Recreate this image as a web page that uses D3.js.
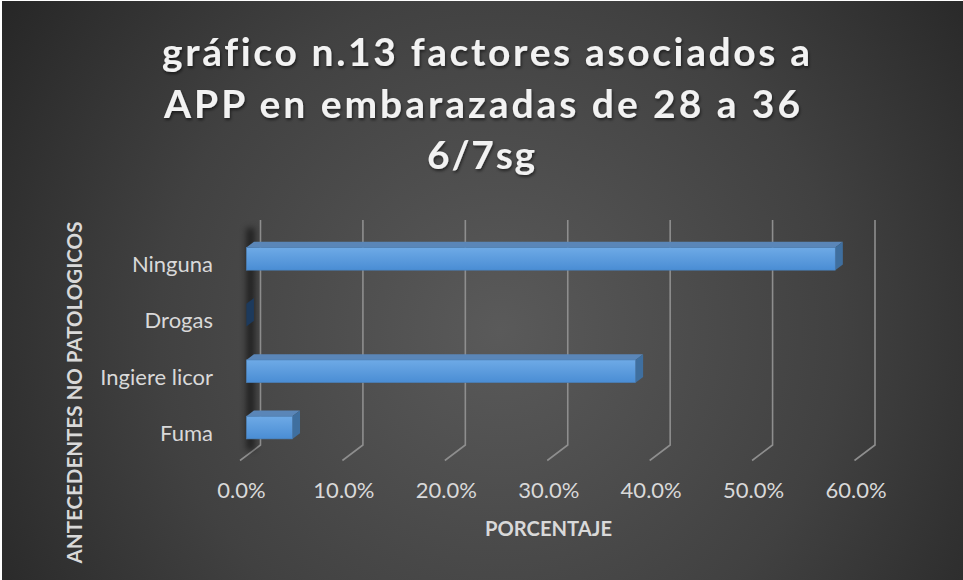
<!DOCTYPE html>
<html>
<head>
<meta charset="utf-8">
<script src="https://cdn.jsdelivr.net/npm/d3@7"></script>
<style>
  html, body { margin: 0; padding: 0; background: #ffffff; }
  svg { display: block; }
  text { font-variant-ligatures: none; font-feature-settings: "liga" 0; }
</style>
</head>
<body>
<svg id="chart" width="963" height="580"></svg>
<script>
// ---- data ----
const categories = ["Ninguna", "Drogas", "Ingiere licor", "Fuma"];
const values = [0.575, 0.0, 0.38, 0.045];
const tickValues = [0, 0.1, 0.2, 0.3, 0.4, 0.5, 0.6];
const titleLines = ["gráfico n.13 factores asociados a", "APP en embarazadas de 28 a 36", "6/7sg"];
const xAxisTitle = "PORCENTAJE";
const yAxisTitle = "ANTECEDENTES NO PATOLOGICOS";

// ---- layout ----
const W = 963, H = 580;
const svg = d3.select("#chart");
const defs = svg.append("defs");

const bg = defs.append("radialGradient").attr("id", "bg")
  .attr("gradientUnits", "userSpaceOnUse")
  .attr("cx", 500).attr("cy", 330).attr("r", 620);
bg.append("stop").attr("offset", "0").attr("stop-color", "#5a5a5a");
bg.append("stop").attr("offset", "0.55").attr("stop-color", "#414141");
bg.append("stop").attr("offset", "1").attr("stop-color", "#242424");

const front = defs.append("linearGradient").attr("id", "barFront")
  .attr("x1", 0).attr("y1", 0).attr("x2", 0).attr("y2", 1);
front.append("stop").attr("offset", "0").attr("stop-color", "#6eaae6");
front.append("stop").attr("offset", "1").attr("stop-color", "#4a8dd4");

const blur = defs.append("filter").attr("id", "blur")
  .attr("x", "-200%").attr("y", "-20%").attr("width", "500%").attr("height", "140%");
blur.append("feGaussianBlur").attr("stdDeviation", 3);

const tshadow = defs.append("filter").attr("id", "tshadow")
  .attr("x", "-10%").attr("y", "-30%").attr("width", "120%").attr("height", "160%");
tshadow.append("feDropShadow").attr("dx", 1).attr("dy", 2).attr("stdDeviation", 1.5)
  .attr("flood-color", "#000").attr("flood-opacity", 0.55);

svg.append("rect").attr("width", W).attr("height", H).attr("fill", "#ffffff");
svg.append("rect").attr("x", 2).attr("y", 1).attr("width", W - 2).attr("height", H - 1)
  .attr("fill", "url(#bg)");

// back-plane scales and depth vector (back -> front)
const x = d3.scaleLinear().domain([0, 0.6]).range([260.5, 875]);
const y = d3.scaleBand().domain(categories).range([220, 445]).padding(0);
const D = { dx: -20.5, dy: 15.5 };
const fFront = 0.69, fBack = 0.32;   // bar faces position along depth
const thick = y.bandwidth() * 0.404;

// gridlines (back wall verticals + floor diagonals)
const grid = svg.append("g");
tickValues.forEach(t => {
  const gx = x(t);
  grid.append("path")
    .attr("d", `M${gx},${y.range()[0]}L${gx},${y.range()[1]}L${gx + D.dx},${y.range()[1] + D.dy}`)
    .attr("fill", "none").attr("stroke", "#8e8e8e").attr("stroke-width", 1.6);
});

// dark shadow along the category axis
svg.append("rect")
  .attr("x", x(0) - 14).attr("y", 228).attr("width", 8).attr("height", 222)
  .attr("fill", "#000").attr("opacity", 0.55).attr("filter", "url(#blur)");

// bars
const bars = svg.append("g");
categories.forEach((c, i) => {
  const v = values[i];
  const yc = y(c) + y.bandwidth() / 2;
  const fx0 = x(0) + D.dx * fFront, fy = D.dy * fFront;
  const bx0 = x(0) + D.dx * fBack, by = D.dy * fBack;
  const fx1 = x(v) + D.dx * fFront, bx1 = x(v) + D.dx * fBack;
  const top = yc - thick / 2, bot = yc + thick / 2;
  bars.append("path")
    .attr("d", `M${fx0},${top + fy}L${fx1},${top + fy}L${bx1},${top + by}L${bx0},${top + by}Z`)
    .attr("fill", "#5a86b8");
  bars.append("path")
    .attr("d", `M${fx1},${top + fy}L${bx1},${top + by}L${bx1},${bot + by}L${fx1},${bot + fy}Z`)
    .attr("fill", v > 0 ? "#3f6f9f" : "#1d3a5c");
  if (v > 0) {
    bars.append("rect")
      .attr("x", fx0).attr("y", top + fy)
      .attr("width", fx1 - fx0).attr("height", thick)
      .attr("fill", "url(#barFront)")
      .attr("stroke", "#4a7db3").attr("stroke-width", 0.6);
  }
});

const FONT = "Lato, 'Open Sans', sans-serif";

// category labels
svg.append("g").selectAll("text").data(categories).join("text")
  .attr("x", 213)
  .attr("y", c => y(c) + y.bandwidth() / 2 + D.dy + 8.5)
  .attr("text-anchor", "end")
  .attr("font-family", FONT)
  .attr("font-size", 22)
  .attr("fill", "#d9d9d9")
  .text(c => c);

// tick labels
const fmt = d3.format(".1%");
svg.append("g").selectAll("text").data(tickValues).join("text")
  .attr("x", t => x(t) + D.dx + 1.5)
  .attr("y", 498)
  .attr("text-anchor", "middle")
  .attr("font-family", FONT)
  .attr("font-size", 22)
  .attr("fill", "#d9d9d9")
  .text(t => fmt(t));

// axis titles
svg.append("text")
  .attr("x", 548.5).attr("y", 536)
  .attr("text-anchor", "middle")
  .attr("font-family", FONT)
  .attr("font-weight", "bold")
  .attr("font-size", 20)
  .attr("textLength", 127).attr("lengthAdjust", "spacingAndGlyphs")
  .attr("fill", "#d9d9d9")
  .text(xAxisTitle);

const yTitle = svg.append("text")
  .attr("transform", "translate(82,392.5) rotate(-90)")
  .attr("text-anchor", "middle")
  .attr("font-family", FONT)
  .attr("font-weight", "bold")
  .attr("font-size", 22)
  .attr("fill", "#d9d9d9")
  .text(yAxisTitle);
const natural = yTitle.node().getComputedTextLength();
if (natural > 0) yTitle.attr("font-size", Math.min(24, 22 * 342 / natural));

// chart title
const titleY = [66, 118, 169];
const titleLen = [648, 636, 108];
const titleCx = [486, 482, 481];
svg.append("g").attr("filter", "url(#tshadow)")
  .selectAll("text").data(titleLines).join("text")
  .attr("x", (d, i) => titleCx[i])
  .attr("y", (d, i) => titleY[i])
  .attr("text-anchor", "middle")
  .attr("font-family", FONT)
  .attr("font-weight", "bold")
  .attr("font-size", 39)
  .attr("textLength", (d, i) => titleLen[i]).attr("lengthAdjust", "spacing")
  .attr("fill", "#f2f2f2")
  .text(d => d);
</script>
</body>
</html>
